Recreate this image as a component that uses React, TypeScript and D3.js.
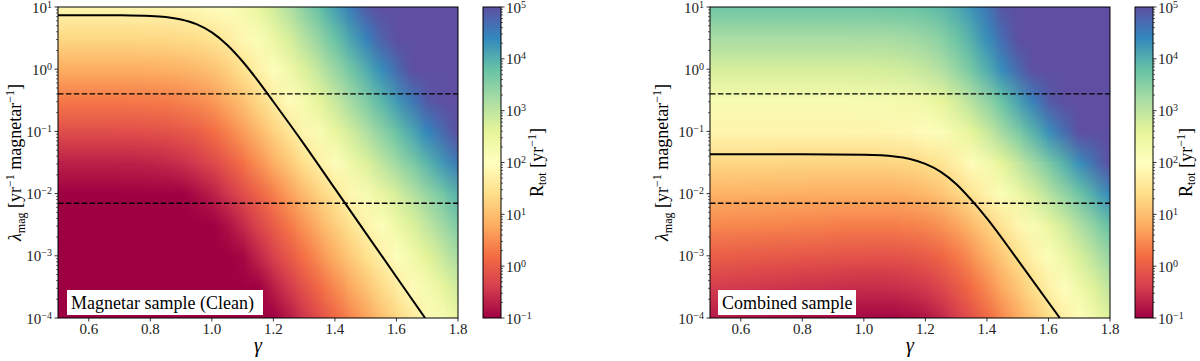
import React, { useMemo } from 'react';
import * as d3 from 'd3';

// sample grid of the two maps
const GAMMA_GRID = [0.5, 0.55, 0.6, 0.65, 0.7, 0.75, 0.8, 0.85, 0.9, 0.95, 1.0, 1.05, 1.1, 1.15, 1.2, 1.25, 1.3, 1.35, 1.4, 1.45, 1.5, 1.55, 1.6, 1.65, 1.7, 1.75, 1.8];
const LOG_LAMBDA_GRID = [1, 0.5, 0, -0.5, -1, -1.5, -2, -2.5, -3, -3.5, -4];

// log10 R_tot, one row per lambda (top to bottom)
const CLEAN_LOG_RATE = [
  [1.8, 1.8, 1.8, 1.8, 1.8, 1.8, 1.8, 1.81, 1.83, 1.87, 1.94, 2.05, 2.25, 2.51, 2.81, 3.13, 3.48, 3.81, 4.16, 4.51, 4.86, 5, 5, 5, 5, 5, 5],
  [1.3, 1.3, 1.3, 1.3, 1.3, 1.3, 1.31, 1.32, 1.35, 1.39, 1.49, 1.64, 1.86, 2.12, 2.43, 2.75, 3.09, 3.42, 3.77, 4.11, 4.45, 4.79, 5, 5, 5, 5, 5],
  [0.8, 0.8, 0.8, 0.8, 0.8, 0.8, 0.81, 0.83, 0.87, 0.93, 1.04, 1.21, 1.45, 1.73, 2.04, 2.35, 2.69, 3.01, 3.35, 3.68, 4.02, 4.35, 4.69, 5, 5, 5, 5],
  [0.3, 0.3, 0.3, 0.3, 0.3, 0.31, 0.32, 0.34, 0.39, 0.47, 0.6, 0.79, 1.04, 1.32, 1.63, 1.95, 2.27, 2.59, 2.92, 3.25, 3.58, 3.9, 4.23, 4.56, 4.89, 5, 5],
  [-0.2, -0.2, -0.2, -0.2, -0.19, -0.19, -0.17, -0.14, -0.08, 0.01, 0.17, 0.38, 0.64, 0.92, 1.23, 1.54, 1.85, 2.17, 2.49, 2.81, 3.13, 3.45, 3.77, 4.09, 4.41, 4.73, 5],
  [-0.7, -0.7, -0.7, -0.7, -0.69, -0.68, -0.66, -0.62, -0.55, -0.43, -0.26, -0.04, 0.23, 0.52, 0.81, 1.12, 1.43, 1.74, 2.05, 2.36, 2.68, 2.99, 3.3, 3.61, 3.93, 4.24, 4.55],
  [-1.2, -1.2, -1.2, -1.2, -1.2, -1.2, -1.15, -1.1, -1.01, -0.88, -0.71, -0.48, -0.21, 0.07, 0.35, 0.66, 0.95, 1.25, 1.55, 1.86, 2.16, 2.46, 2.76, 3.07, 3.37, 3.67, 3.97],
  [-1.2, -1.2, -1.2, -1.2, -1.2, -1.2, -1.2, -1.2, -1.2, -1.2, -1.09, -0.85, -0.59, -0.3, -0.01, 0.29, 0.58, 0.88, 1.18, 1.48, 1.78, 2.08, 2.38, 2.68, 2.98, 3.28, 3.58],
  [-1.2, -1.2, -1.2, -1.2, -1.2, -1.2, -1.2, -1.2, -1.2, -1.2, -1.2, -1.2, -0.93, -0.64, -0.35, -0.06, 0.24, 0.54, 0.83, 1.13, 1.43, 1.73, 2.02, 2.32, 2.62, 2.92, 3.21],
  [-1.2, -1.2, -1.2, -1.2, -1.2, -1.2, -1.2, -1.2, -1.2, -1.2, -1.2, -1.2, -1.2, -1.01, -0.71, -0.43, -0.13, 0.16, 0.46, 0.75, 1.05, 1.34, 1.64, 1.93, 2.23, 2.52, 2.82],
  [-1.2, -1.2, -1.2, -1.2, -1.2, -1.2, -1.2, -1.2, -1.2, -1.2, -1.2, -1.2, -1.2, -1.2, -1.06, -0.76, -0.47, -0.17, 0.12, 0.42, 0.71, 1.01, 1.3, 1.6, 1.89, 2.19, 2.48],
];

const COMBINED_LOG_RATE = [
  [3.7, 3.7, 3.7, 3.7, 3.7, 3.7, 3.7, 3.7, 3.7, 3.7, 3.7, 3.71, 3.72, 3.74, 3.79, 3.88, 4.04, 4.28, 4.59, 4.93, 5, 5, 5, 5, 5, 5, 5],
  [3.2, 3.2, 3.2, 3.2, 3.2, 3.2, 3.2, 3.2, 3.2, 3.2, 3.21, 3.21, 3.23, 3.27, 3.35, 3.5, 3.73, 4.01, 4.34, 4.69, 5, 5, 5, 5, 5, 5, 5],
  [2.75, 2.75, 2.75, 2.75, 2.75, 2.75, 2.75, 2.75, 2.75, 2.75, 2.76, 2.77, 2.8, 2.85, 2.95, 3.13, 3.38, 3.68, 4.02, 4.37, 4.73, 5, 5, 5, 5, 5, 5],
  [2.2, 2.2, 2.2, 2.2, 2.2, 2.2, 2.2, 2.2, 2.2, 2.2, 2.21, 2.22, 2.24, 2.29, 2.39, 2.56, 2.8, 3.1, 3.43, 3.78, 4.14, 4.5, 4.86, 5, 5, 5, 5],
  [1.8, 1.8, 1.8, 1.8, 1.8, 1.8, 1.8, 1.8, 1.8, 1.8, 1.81, 1.82, 1.84, 1.88, 1.96, 2.1, 2.32, 2.6, 2.91, 3.26, 3.61, 3.96, 4.32, 4.68, 5, 5, 5],
  [1.3, 1.3, 1.3, 1.29, 1.29, 1.28, 1.28, 1.27, 1.27, 1.27, 1.27, 1.27, 1.29, 1.32, 1.39, 1.52, 1.72, 1.97, 2.27, 2.6, 2.94, 3.28, 3.63, 3.98, 4.33, 4.68, 5],
  [0.85, 0.84, 0.84, 0.83, 0.82, 0.81, 0.81, 0.8, 0.79, 0.79, 0.79, 0.79, 0.8, 0.85, 0.92, 1.05, 1.24, 1.5, 1.78, 2.09, 2.42, 2.74, 3.06, 3.39, 3.72, 4.05, 4.38],
  [0.45, 0.44, 0.43, 0.42, 0.41, 0.4, 0.39, 0.38, 0.36, 0.35, 0.35, 0.35, 0.35, 0.38, 0.43, 0.54, 0.71, 0.94, 1.21, 1.52, 1.83, 2.16, 2.48, 2.81, 3.14, 3.47, 3.8],
  [0, -0.01, -0.03, -0.04, -0.06, -0.07, -0.09, -0.1, -0.11, -0.13, -0.13, -0.14, -0.13, -0.1, -0.03, 0.1, 0.29, 0.54, 0.82, 1.12, 1.44, 1.76, 2.08, 2.4, 2.73, 3.05, 3.38],
  [-0.4, -0.42, -0.44, -0.45, -0.47, -0.49, -0.51, -0.52, -0.54, -0.56, -0.57, -0.57, -0.55, -0.51, -0.44, -0.28, -0.07, 0.19, 0.47, 0.78, 1.09, 1.4, 1.72, 2.04, 2.36, 2.68, 3.0],
  [-0.75, -0.77, -0.79, -0.81, -0.84, -0.86, -0.88, -0.9, -0.92, -0.93, -0.94, -0.95, -0.94, -0.89, -0.8, -0.63, -0.4, -0.14, 0.15, 0.45, 0.77, 1.08, 1.4, 1.71, 2.03, 2.35, 2.67],
];

// black contour lines
const CLEAN_CURVE_GAMMA = [0.5, 0.6, 0.7, 0.8, 0.85, 0.9, 0.95, 1.0, 1.05, 1.1, 1.15, 1.2, 1.3, 1.4, 1.5, 1.6, 1.693];
const CLEAN_CURVE_LAMBDA = [7.4, 7.4, 7.35, 7.17, 6.9, 6.3, 5.3, 3.9, 2.45, 1.33, 0.65, 0.3, 0.062, 0.012, 0.00234, 0.000457, 0.0001];
const COMBINED_CURVE_GAMMA = [0.5, 0.8, 1.0, 1.1, 1.15, 1.2, 1.25, 1.3, 1.35, 1.4, 1.5, 1.637];
const COMBINED_CURVE_LAMBDA = [0.043, 0.043, 0.042, 0.0395, 0.036, 0.03, 0.0224, 0.0143, 0.00785, 0.004, 0.00086, 0.0001];

const DASHED_LAMBDA = [0.4, 0.007];
const X_TICKS = [0.6, 0.8, 1.0, 1.2, 1.4, 1.6, 1.8];
const Y_TICK_EXPONENTS = [1, 0, -1, -2, -3, -4];
const CBAR_TICK_EXPONENTS = [5, 4, 3, 2, 1, 0, -1];
const SPECTRAL = ['#9e0142', '#d53e4f', '#f46d43', '#fdae61', '#fee08b', '#ffffbf', '#e6f598', '#abdda4', '#66c2a5', '#3288bd', '#5e4fa2'];
const PANEL_LABELS = ['Magnetar sample (Clean)', 'Combined sample'];

const FONT = "'Liberation Serif', 'Times New Roman', 'DejaVu Serif', serif";
const TOP = 7;
const BOTTOM = 318;
const PLOT_W = 400;
const CBAR_W = 18;

const spectral = d3.piecewise(d3.interpolateRgb, SPECTRAL);
const rateToT = d3.scaleLinear().domain([-1, 5]).range([0, 1]).clamp(true);

function heatmapURL(grid: number[][]) {
  const canvas = document.createElement('canvas');
  canvas.width = GAMMA_GRID.length;
  canvas.height = LOG_LAMBDA_GRID.length;
  const ctx = canvas.getContext('2d')!;
  grid.forEach((row, j) =>
    row.forEach((v, i) => {
      ctx.fillStyle = spectral(rateToT(v));
      ctx.fillRect(i, j, 1, 1);
    })
  );
  return canvas.toDataURL();
}

const expText = (e: number) => (e < 0 ? '\u2212' + Math.abs(e) : String(e));

const PANELS = [
  { id: 'clean', left: 58, cbarLeft: 483, yLabelX: 21, cbarLabelX: 543, grid: CLEAN_LOG_RATE, cg: CLEAN_CURVE_GAMMA, cl: CLEAN_CURVE_LAMBDA, label: PANEL_LABELS[0], box: [67, 290, 196, 25] },
  { id: 'comb', left: 710, cbarLeft: 1135, yLabelX: 668, cbarLabelX: 1192, grid: COMBINED_LOG_RATE, cg: COMBINED_CURVE_GAMMA, cl: COMBINED_CURVE_LAMBDA, label: PANEL_LABELS[1], box: [718, 290, 138, 25] },
];

function Panel({ p }: { p: typeof PANELS[number] }) {
  const x = d3.scaleLinear().domain([0.5, 1.8]).range([p.left, p.left + PLOT_W]);
  const y = d3.scaleLog().domain([1e-4, 10]).range([BOTTOM, TOP]);
  const c = d3.scaleLog().domain([0.1, 1e5]).range([BOTTOM, TOP]);
  const href = useMemo(() => heatmapURL(p.grid), [p.grid]);

  const hg = (GAMMA_GRID[1] - GAMMA_GRID[0]) / 2;
  const hl = (LOG_LAMBDA_GRID[0] - LOG_LAMBDA_GRID[1]) / 2;
  const ix0 = x(GAMMA_GRID[0] - hg);
  const ix1 = x(GAMMA_GRID[GAMMA_GRID.length - 1] + hg);
  const iy0 = y(10 ** (LOG_LAMBDA_GRID[0] + hl));
  const iy1 = y(10 ** (LOG_LAMBDA_GRID[LOG_LAMBDA_GRID.length - 1] - hl));

  const line = d3
    .line<number>()
    .x((i) => x(p.cg[i]))
    .y((i) => y(p.cl[i]))
    .curve(d3.curveMonotoneX);

  const yMinor: number[] = [];
  for (let k = -4; k < 1; k++) for (let m = 2; m < 10; m++) yMinor.push(m * 10 ** k);
  const cMinor: number[] = [];
  for (let k = -1; k < 5; k++) for (let m = 2; m < 10; m++) cMinor.push(m * 10 ** k);

  const cbarRight = p.cbarLeft + CBAR_W;
  const midY = (TOP + BOTTOM) / 2;

  return (
    <g>
      <defs>
        <clipPath id={`clip-${p.id}`}>
          <rect x={p.left} y={TOP} width={PLOT_W} height={BOTTOM - TOP} />
        </clipPath>
        <linearGradient id={`cbar-${p.id}`} x1="0" y1="1" x2="0" y2="0">
          {SPECTRAL.map((col, i) => (
            <stop key={i} offset={i / (SPECTRAL.length - 1)} stopColor={col} />
          ))}
        </linearGradient>
      </defs>

      <g clipPath={`url(#clip-${p.id})`}>
        <image href={href} x={ix0} y={iy0} width={ix1 - ix0} height={iy1 - iy0} preserveAspectRatio="none" />
        {DASHED_LAMBDA.map((l) => (
          <line key={l} x1={p.left} x2={p.left + PLOT_W} y1={y(l)} y2={y(l)} stroke="#000" strokeWidth={1.3} strokeDasharray="5.5 2.4" />
        ))}
        <path d={line(p.cg.map((_, i) => i)) || ''} fill="none" stroke="#000" strokeWidth={2} />
      </g>

      <rect x={p.box[0]} y={p.box[1]} width={p.box[2]} height={p.box[3]} fill="#fff" />
      <text x={p.box[0] + 4} y={p.box[1] + 19} fontSize={18}>{p.label}</text>

      <rect x={p.left} y={TOP} width={PLOT_W} height={BOTTOM - TOP} fill="none" stroke="#000" strokeWidth={1} />

      {/* x axis */}
      {X_TICKS.map((t) => (
        <g key={t}>
          <line x1={x(t)} x2={x(t)} y1={BOTTOM} y2={BOTTOM + 3.5} stroke="#000" strokeWidth={0.8} />
          <text x={x(t)} y={BOTTOM + 16} textAnchor="middle" fontSize={15} fill="#222">
            {d3.format('.1f')(t)}
          </text>
        </g>
      ))}
      <text x={p.left + PLOT_W / 2} y={352} textAnchor="middle" fontSize={20} fontStyle="italic">γ</text>

      {/* y axis */}
      {yMinor.map((v) => (
        <line key={v} x1={p.left - 2} x2={p.left} y1={y(v)} y2={y(v)} stroke="#000" strokeWidth={0.6} />
      ))}
      {Y_TICK_EXPONENTS.map((e) => (
        <g key={e}>
          <line x1={p.left - 3.5} x2={p.left} y1={y(10 ** e)} y2={y(10 ** e)} stroke="#000" strokeWidth={0.8} />
          <text x={p.left - 6} y={y(10 ** e) + 5.5} textAnchor="end" fontSize={15} fill="#222">
            <tspan>10</tspan>
            <tspan dy={-5} fontSize={10}>{expText(e)}</tspan>
          </text>
        </g>
      ))}
      <text transform={`translate(${p.yLabelX},${midY}) rotate(-90)`} textAnchor="middle" fontSize={18}>
        <tspan fontStyle="italic">λ</tspan>
        <tspan fontSize={12} dy={4}>mag</tspan>
        <tspan dy={-4}>{' [yr'}</tspan>
        <tspan fontSize={12} dy={-7}>{'\u22121'}</tspan>
        <tspan dy={7}>{' magnetar'}</tspan>
        <tspan fontSize={12} dy={-7}>{'\u22121'}</tspan>
        <tspan dy={7}>]</tspan>
      </text>

      {/* colour bar */}
      <rect x={p.cbarLeft} y={TOP} width={CBAR_W} height={BOTTOM - TOP} fill={`url(#cbar-${p.id})`} stroke="#000" strokeWidth={1} />
      {cMinor.map((v) => (
        <line key={v} x1={cbarRight} x2={cbarRight + 2} y1={c(v)} y2={c(v)} stroke="#000" strokeWidth={0.6} />
      ))}
      {CBAR_TICK_EXPONENTS.map((e) => (
        <g key={e}>
          <line x1={cbarRight} x2={cbarRight + 3.5} y1={c(10 ** e)} y2={c(10 ** e)} stroke="#000" strokeWidth={0.8} />
          <text x={cbarRight + 5} y={c(10 ** e) + 5.5} fontSize={15} fill="#222">
            <tspan>10</tspan>
            <tspan dy={-5} fontSize={10}>{expText(e)}</tspan>
          </text>
        </g>
      ))}
      <text transform={`translate(${p.cbarLabelX},${midY}) rotate(-90)`} textAnchor="middle" fontSize={18}>
        <tspan>R</tspan>
        <tspan fontSize={12} dy={3}>tot</tspan>
        <tspan dy={-3}>{' [yr'}</tspan>
        <tspan fontSize={12} dy={-7}>{'\u22121'}</tspan>
        <tspan dy={7}>]</tspan>
      </text>
    </g>
  );
}

export default function App() {
  return (
    <svg
      width={1200}
      height={361}
      style={{ position: 'absolute', left: 0, top: 0, background: '#fff', fontFamily: FONT }}
    >
      {PANELS.map((p) => (
        <Panel key={p.id} p={p} />
      ))}
    </svg>
  );
}
